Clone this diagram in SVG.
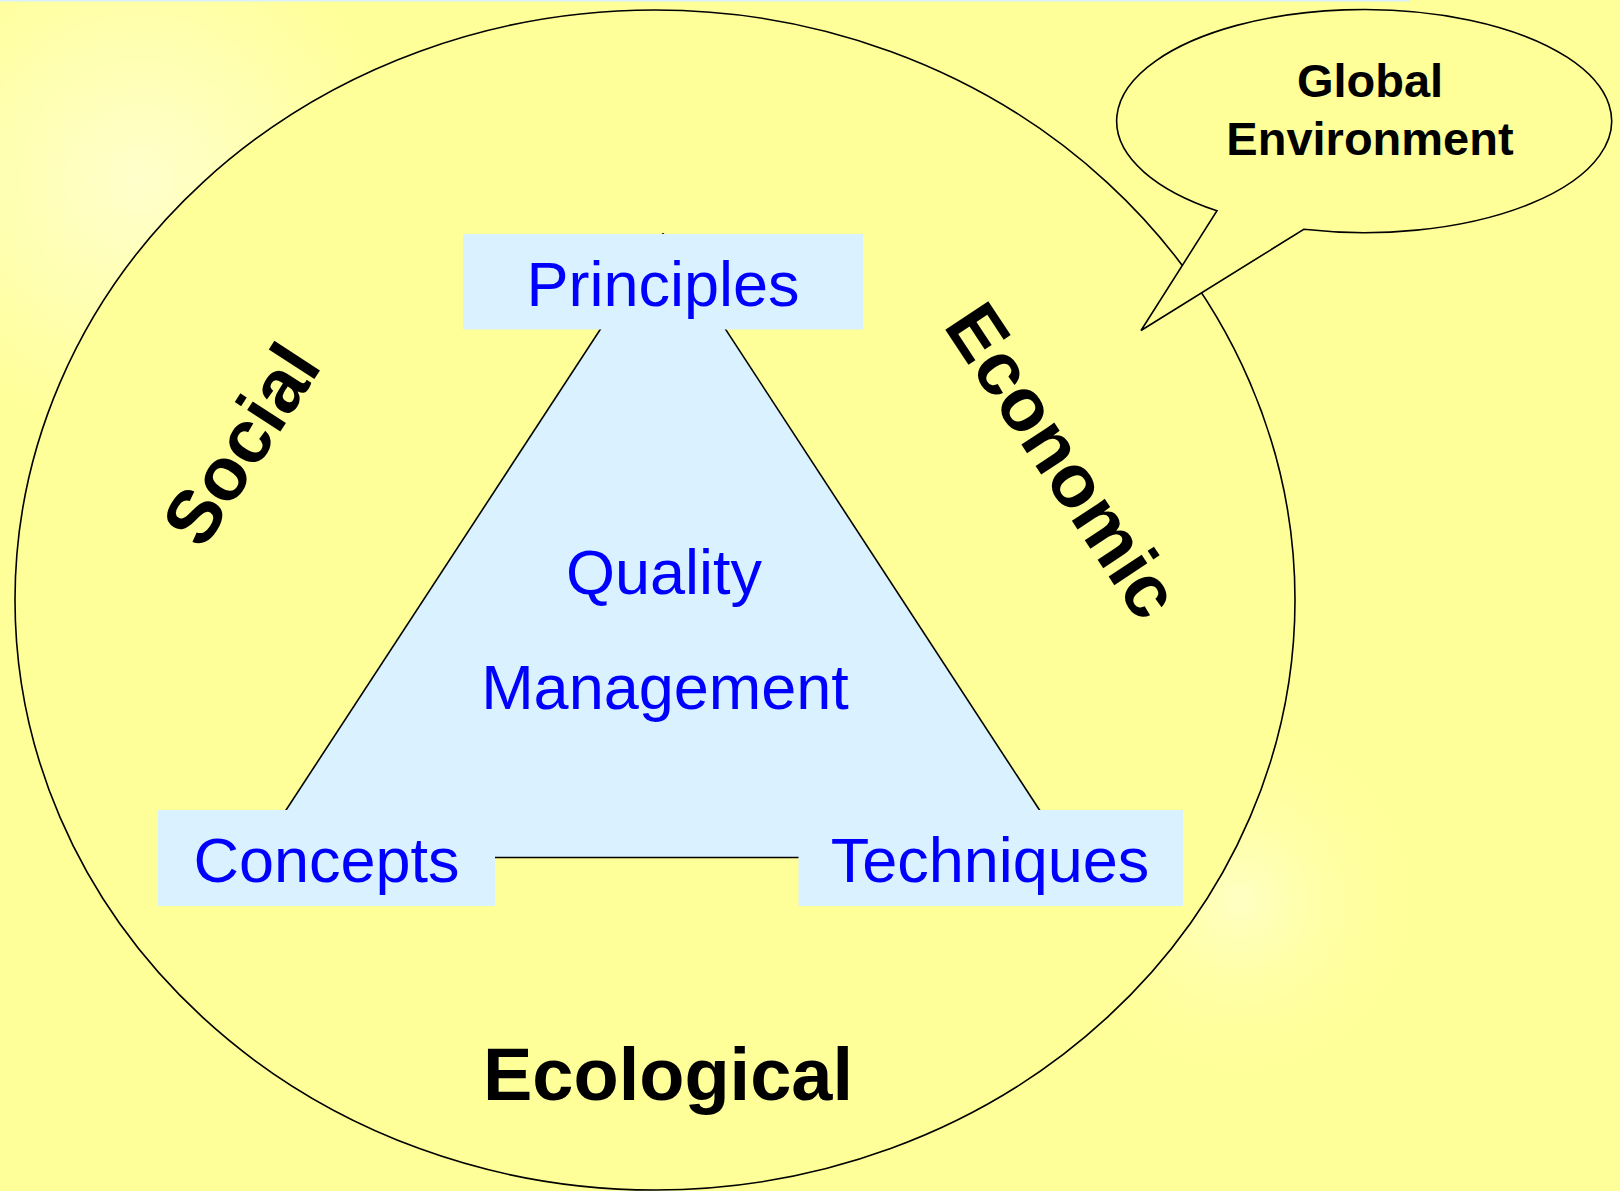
<svg xmlns="http://www.w3.org/2000/svg" width="1620" height="1191" viewBox="0 0 1620 1191">
  <defs>
    <radialGradient id="glowA" cx="140" cy="180" r="260" gradientUnits="userSpaceOnUse">
      <stop offset="0" stop-color="#FFFFCC"/>
      <stop offset="1" stop-color="#FFFF99"/>
    </radialGradient>
    <radialGradient id="glowB" cx="1240" cy="900" r="200" gradientUnits="userSpaceOnUse">
      <stop offset="0" stop-color="#FFFFC4"/>
      <stop offset="1" stop-color="#FFFF99" stop-opacity="0"/>
    </radialGradient>
    <style>
      .line { stroke: #000; stroke-width: 1.6; fill: none; }
      .box { fill: #DAF1FF; }
      .blue { font-family: "Liberation Sans", Arial, sans-serif; font-size: 63px; fill: #0000FF; }
      .bold { font-family: "Liberation Sans", Arial, sans-serif; font-weight: bold; fill: #000; }
    </style>
  </defs>

  <rect x="0" y="0" width="1620" height="1191" fill="url(#glowA)"/>
  <rect x="0" y="0" width="1620" height="1191" fill="url(#glowB)"/>
  <rect x="0" y="0" width="1410" height="1.5" fill="#DAF1FF"/>

  <g id="global-environment-circle">
    <ellipse cx="655" cy="600" rx="640" ry="590" fill="#FFFF99" stroke="#000" stroke-width="1.6"/>
  </g>

  <g id="triangle">
    <polygon points="663,233.5 255,857.5 1070.5,857.5" fill="#DAF1FF"/>
  </g>

  <g id="connectors">
    <line class="line" x1="663" y1="233.5" x2="255" y2="857.5"/>
    <line class="line" x1="663" y1="233.5" x2="1070.5" y2="857.5"/>
    <line class="line" x1="255" y1="857.5" x2="1070.5" y2="857.5"/>
  </g>

  <g id="principles">
    <rect class="box" x="463" y="234" width="400" height="95.5"/>
    <text class="blue" x="663" y="306" text-anchor="middle">Principles</text>
  </g>

  <g id="concepts">
    <rect class="box" x="158" y="810" width="337" height="96"/>
    <text class="blue" x="326.5" y="881.5" text-anchor="middle">Concepts</text>
  </g>

  <g id="techniques">
    <rect class="box" x="798.5" y="810" width="384.5" height="96"/>
    <text class="blue" x="990" y="881.5" text-anchor="middle">Techniques</text>
  </g>

  <g id="quality-management">
    <text class="blue" x="664" y="593.5" text-anchor="middle">Quality</text>
    <text class="blue" x="665" y="708.5" text-anchor="middle">Management</text>
  </g>

  <g id="social">
    <text class="bold" font-size="75" x="0" y="27" text-anchor="middle" transform="translate(240 444) rotate(-57)">Social</text>
  </g>

  <g id="economic">
    <text class="bold" font-size="75" x="0" y="27" text-anchor="middle" transform="translate(1064 460) rotate(56.5)">Economic</text>
  </g>

  <g id="ecological">
    <text class="bold" font-size="74" x="668" y="1100" text-anchor="middle">Ecological</text>
  </g>

  <g id="callout">
    <path d="M 1303.8 229.3 A 247.5 111.6 0 1 0 1217 210.8 L 1141 330.5 Z" fill="#FFFF99" stroke="#000" stroke-width="1.6" stroke-linejoin="miter"/>
    <text class="bold" font-size="47" x="1370" y="97" text-anchor="middle">Global</text>
    <text class="bold" font-size="47" x="1370" y="155" text-anchor="middle">Environment</text>
  </g>
</svg>
